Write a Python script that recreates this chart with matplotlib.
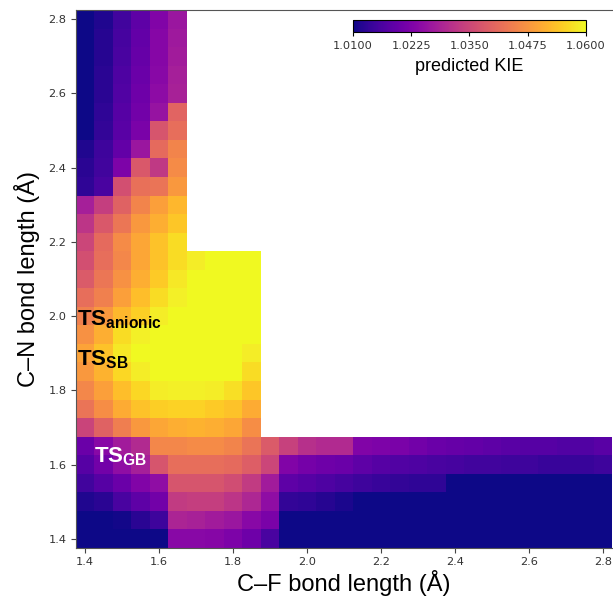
import numpy as np
import matplotlib.pyplot as plt

plt.rcParams['font.family'] = ['Liberation Sans', 'DejaVu Sans']
plt.rcParams['mathtext.fontset'] = 'custom'
plt.rcParams['mathtext.rm'] = 'Liberation Sans'
plt.rcParams['mathtext.bf'] = 'Liberation Sans:bold'

# bond length grid (Angstrom), 0.05 step
cf_len = np.round(np.arange(1.40, 2.801, 0.05), 2)
cn_len = np.round(np.arange(1.40, 2.801, 0.05), 2)

# predicted KIE, stored as (KIE - 1) * 1000
# upper-left block: C-N 2.80 -> 2.20, C-F 1.40 -> 1.65
kie_upper = [
    [10, 11.5, 15, 18.5, 23, 26.5],
    [10, 12, 15.5, 19, 23.5, 27],
    [10, 12, 16, 19.5, 23.5, 27.5],
    [10, 12.5, 16.5, 20, 24, 28],
    [10, 12.5, 17, 20.5, 24.5, 28.5],
    [10, 13, 17.5, 21, 26, 40],
    [10, 13.5, 18, 22, 37.5, 41.5],
    [11.5, 14.5, 19, 26.5, 41, 45],
    [12.5, 15, 22.5, 38, 32.5, 46],
    [13, 16, 36.5, 42, 42.5, 48],
    [28, 33.5, 39.5, 45, 49, 52],
    [32, 38, 43, 48, 51, 54],
    [35, 41, 46, 50, 53.5, 56.5],
]
# middle block: C-N 2.15 -> 1.70, C-F 1.40 -> 1.85
kie_middle = [
    [36.5, 41.5, 45.5, 50, 53.5, 56.5, 58.5, 60, 60, 60],
    [38.5, 43, 47, 51, 54.5, 58, 60, 61, 61, 61],
    [41.5, 44.5, 49, 53, 56.5, 59, 61, 62, 62, 62],
    [44.5, 48, 52, 55, 58.5, 60, 62, 62, 62, 62],
    [47, 51, 56.5, 59, 61, 62, 62, 62, 62, 61],
    [49.5, 53.5, 58, 60, 62, 62, 62, 62, 61, 58.5],
    [48, 51.5, 56, 58.5, 60, 61, 61, 60.5, 60, 56.5],
    [45.5, 49, 53, 56, 58.5, 59, 59, 58.5, 57, 54],
    [42.5, 46.5, 50.5, 53.5, 55, 55.5, 55.5, 54.5, 53.5, 50.5],
    [34.5, 39.5, 44, 48, 50, 51, 51.5, 51, 50, 46.5],
]
# lower block: C-N 1.65 -> 1.40, C-F 1.40 -> 2.80
kie_lower = [
    [20, 24, 27.5, 30, 45.5, 45.5, 46, 46, 45, 42.5, 38.5, 34, 31, 30, 30,
     23, 22.5, 22, 21, 20, 19.5, 19, 18.5, 18, 17.5, 17.5, 17, 17, 18],
    [17.5, 21, 25, 28, 37.5, 41.5, 41.5, 41.5, 41, 39, 35, 23, 21.5, 20.5, 20,
     18.5, 17.5, 17, 16.5, 16, 15.5, 15, 15, 14.5, 14.5, 14, 14, 14, 14.5],
    [15, 17.5, 20, 23, 25, 37.5, 37.5, 37.5, 36, 33, 27.5, 18.5, 17.5, 16.5, 15.5,
     14.5, 14, 13.5, 13, 13, 10, 10, 10, 10, 10, 10, 10, 10, 10],
    [11.5, 12.5, 16, 18.5, 21, 33, 33.5, 33.5, 32, 29.5, 25, 13.5, 13, 12, 11,
     10, 10, 10, 10, 10, 10, 10, 10, 10, 10, 10, 10, 10, 10],
    [10, 10, 10.5, 12.5, 14.5, 29, 28.5, 27.5, 26.5, 24, 22, 10, 10, 10, 10,
     10, 10, 10, 10, 10, 10, 10, 10, 10, 10, 10, 10, 10, 10],
    [10, 10, 10, 10, 10, 24, 24, 23.5, 22.5, 20.5, 16, 10, 10, 10, 10,
     10, 10, 10, 10, 10, 10, 10, 10, 10, 10, 10, 10, 10, 10],
]

cbar_ticks = [1.0100, 1.0225, 1.0350, 1.0475, 1.0600]

# assemble the full grid (rows = C-N, cols = C-F), NaN where not computed
Z = np.full((len(cn_len), len(cf_len)), np.nan)
def put(block, cn_top):
    block = np.array(block, dtype=float)
    r0 = int(np.where(np.isclose(cn_len, cn_top))[0][0])
    for i, row in enumerate(block):
        Z[r0 - i, :len(row)] = 1 + row / 1000.0
put(kie_upper, 2.80)
put(kie_middle, 2.15)
put(kie_lower, 1.65)

fig = plt.figure(figsize=(6.13, 6.02), dpi=100)
ax = fig.add_axes([76/613, 54/602, 536/613, 538/602])
mesh = ax.pcolormesh(cf_len, cn_len, np.ma.masked_invalid(Z), cmap='plasma',
                     vmin=1.01, vmax=1.06, shading='nearest')
ax.set_xlim(1.375, 2.825)
ax.set_ylim(1.375, 2.825)
ax.set_xticks([1.4, 1.6, 1.8, 2.0, 2.2, 2.4, 2.6, 2.8])
ax.set_yticks([1.4, 1.6, 1.8, 2.0, 2.2, 2.4, 2.6, 2.8])
ax.tick_params(labelsize=8.2, labelcolor='#333333', color='#444444', length=3.3)
for lab in ax.get_xticklabels() + ax.get_yticklabels():
    lab.set_family('DejaVu Sans')
ax.spines['right'].set_visible(False)
for s in ['top', 'left', 'bottom']:
    ax.spines[s].set_color('#555555')
ax.set_xlabel('C–F bond length (Å)', fontsize=17, labelpad=2)
ax.set_ylabel('C–N bond length (Å)', fontsize=17, labelpad=6)

ax.text(1.377, 1.976, r'$\mathbf{TS}_{\mathbf{anionic}}$', fontsize=16, color='black')
ax.text(1.377, 1.867, r'$\mathbf{TS}_{\mathbf{SB}}$', fontsize=16, color='black')
ax.text(1.425, 1.605, r'$\mathbf{TS}_{\mathbf{GB}}$', fontsize=16, color='white')

cax = fig.add_axes([353/613, 1 - 32/602, 233/613, 12/602])
cb = fig.colorbar(mesh, cax=cax, orientation='horizontal', ticks=cbar_ticks)
cb.ax.set_xticklabels(['%.4f' % t for t in cbar_ticks], family='DejaVu Sans')
cb.ax.tick_params(labelsize=8.2, length=3, labelcolor='#333333')
cb.set_label('predicted KIE', fontsize=13, labelpad=5)
cb.outline.set_linewidth(0.8)

fig.savefig('out.png', dpi=100)
